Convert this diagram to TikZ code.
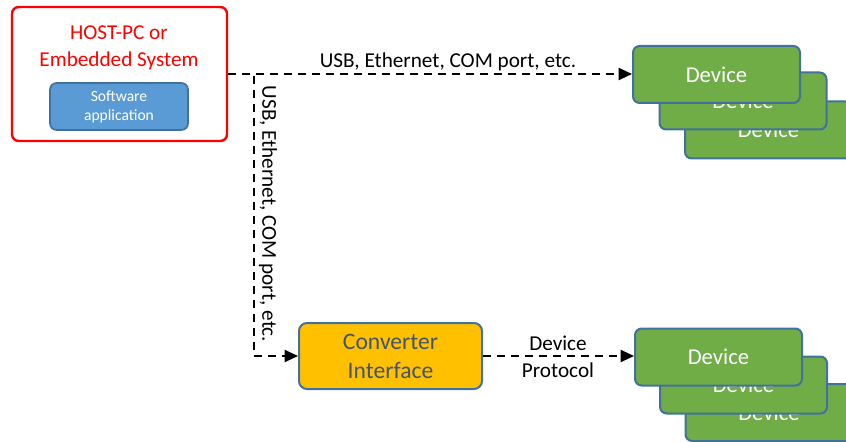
\documentclass[tikz,border=0pt]{standalone}
\usepackage{fontspec}
\setmainfont{Carlito}
\usetikzlibrary{arrows.meta}
\definecolor{devgreen}{HTML}{70AD47}
\definecolor{bordblue}{HTML}{41719C}
\definecolor{swblue}{HTML}{5B9BD5}
\definecolor{convyellow}{HTML}{FFC000}
\definecolor{convtext}{HTML}{44546A}
\begin{document}
\begin{tikzpicture}[x=0.75pt,y=-0.75pt,
  devbox/.style={draw=bordblue, line width=1.5pt, fill=devgreen, rounded corners=5pt,
    minimum width=125.25pt, minimum height=42.75pt, inner sep=0pt, text=white,
    font=\fontsize{17}{20}\selectfont},
  hostbox/.style={draw=red, line width=1.8pt, fill=white, rounded corners=5pt,
    minimum width=161.25pt, minimum height=100.5pt, inner sep=0pt},
  swbox/.style={draw=bordblue, line width=1.3pt, fill=swblue, rounded corners=5pt,
    minimum width=103.5pt, minimum height=35.25pt, inner sep=0pt, text=white, align=center,
    font=\fontsize{11.7}{14.25}\selectfont},
  convbox/.style={draw=bordblue, line width=1.5pt, fill=convyellow, rounded corners=6pt,
    minimum width=137.25pt, minimum height=49.5pt, inner sep=0pt, text=convtext, align=center,
    font=\fontsize{17.7}{21.75}\selectfont},
  conn/.style={draw=black, line width=1.5pt, dash pattern=on 6pt off 4.5pt,
    -{Triangle[length=10pt,width=9pt]}},
  lbl/.style={inner sep=0pt, font=\fontsize{15.9}{20.25}\selectfont, align=center}
]
\useasboundingbox (0,0) rectangle (846,442);
\clip (0,0) rectangle (846,442);

% host
\node[hostbox] (host) at (119.5,74) {};
\node[inner sep=0pt, text=red, align=center, font=\fontsize{15.9}{20.25}\selectfont] (hosttxt) at (119,48) {HOST-PC or\\Embedded System};
\node[swbox] (sw) at (119,106.5) {Software\\application};

% top devices
\node[devbox] (d3) at (768.5,130) {Device};
\node[devbox] (d2) at (743,101) {Device};
\node[devbox] (d1) at (716.5,74.5) {Device};

% bottom devices
\node[devbox] (e3) at (769,412.5) {Device};
\node[devbox] (e2) at (743.5,385) {Device};
\node[devbox] (e1) at (718.5,357) {Device};

% converter
\node[convbox] (conv) at (390.5,356) {Converter\\Interface};

% connectors
\draw[conn] (host.east) -- (d1.west |- host.east);
\draw[conn] (host.east) -- ++(26,0) |- (conv.west);
\draw[conn] (conv.east) -- (e1.west |- conv.east);

% labels
\node[lbl] (l1) at (448,62) {USB, Ethernet, COM port, etc.};
\node[lbl, rotate=-90] (l2) at (268,214) {USB, Ethernet, COM port, etc.};
\node[lbl] (l3) at (558,356.5) {Device\\Protocol};
\end{tikzpicture}
\end{document}
